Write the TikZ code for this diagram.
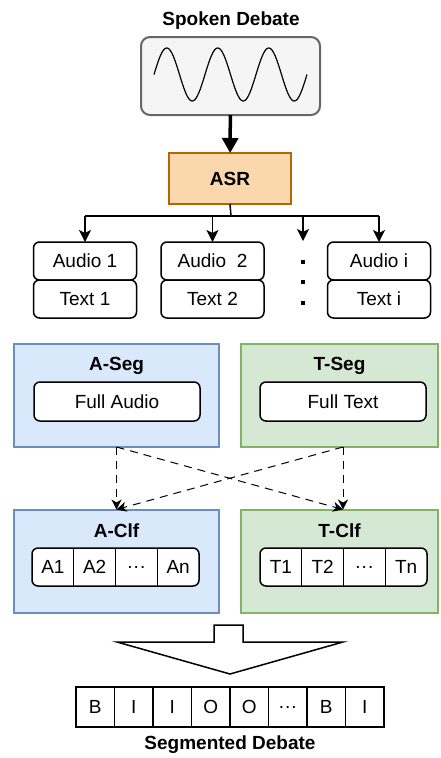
\documentclass[tikz,border=0pt]{standalone}
\usepackage{fontspec}
\setmainfont{Liberation Sans}
\usetikzlibrary{positioning,arrows.meta}

\definecolor{wavefill}{HTML}{F5F5F5}
\definecolor{wavedraw}{HTML}{666666}
\definecolor{asrfill}{HTML}{FAD7AC}
\definecolor{asrdraw}{HTML}{B46504}
\definecolor{bluefill}{HTML}{DAE8FC}
\definecolor{bluedraw}{HTML}{6C8EBF}
\definecolor{greenfill}{HTML}{D5E8D4}
\definecolor{greendraw}{HTML}{82B366}

\begin{document}
\begin{tikzpicture}[x=1pt,y=-1pt,
every node/.style={font=\fontsize{19}{22}\selectfont, inner sep=0pt, outer sep=0pt},
title/.style={font=\fontsize{19}{22}\selectfont\bfseries},
wavebox/.style={draw=wavedraw, fill=wavefill, line width=2pt, rounded corners=9pt, minimum width=179pt, minimum height=78pt},
asrbox/.style={draw=asrdraw, fill=asrfill, line width=2pt, minimum width=122pt, minimum height=51pt, font=\fontsize{19}{22}\selectfont\bfseries},
item/.style={draw, fill=white, line width=1.5pt, rounded corners=6pt, minimum width=103pt, minimum height=38pt},
dot/.style={fill, rectangle, minimum size=4.5pt},
segbox/.style={draw=#1draw, fill=#1fill, line width=2pt, minimum height=103pt},
cellrow/.style={draw, fill=white, line width=1.5pt, rounded corners=6pt, minimum width=167pt, minimum height=38pt},
cell/.style={minimum width=41.75pt, minimum height=38pt},
bio/.style={draw, line width=1.5pt, minimum width=38.5pt, minimum height=40pt},
link/.style={line width=1.5pt, -{Stealth[length=12pt,width=12pt,inset=3pt]}},
cross/.style={line width=1pt, dash pattern=on 8pt off 6pt, -{Stealth[length=10pt,width=10pt,inset=3pt]}}
]
\useasboundingbox (0,0) rectangle (440,758);

% input signal
\node[title] (spoken) at (231,21) {Spoken Debate};
\node[wavebox] (wave) at (230.5,76) {};
\draw[line width=1.2pt] plot[domain=0:1080, samples=160] ({154+\x/1080*153}, {74.5-26.5*sin(\x)});
\node[asrbox] (asr) at (230,178.5) {ASR};
\draw[line width=3.5pt, -{Triangle[length=15pt,width=16pt]}] (wave) -- (asr);

% transcribed segments
\node[item] (audio1) at (85,261) {Audio 1};
\node[item, below=0pt of audio1] (text1) {Text 1};
\node[item] (audio2) at (212.5,261) {Audio\ \ 2};
\node[item, below=0pt of audio2] (text2) {Text 2};
\node[item] (audioi) at (379,261) {Audio i};
\node[item, below=0pt of audioi] (texti) {Text i};
\node[dot] (dot1) at (303,262) {};
\node[dot] (dot2) at (303,282) {};
\node[dot] (dot3) at (303,303) {};
\coordinate (bus) at (231,216);
\coordinate (dotstop) at (303,241);

\draw[line width=1.5pt] (asr.south) -- (bus);
\draw[line width=1.5pt] (audio1.north |- bus) -- (audioi.north |- bus);
\draw[link] (audio1.north |- bus) -- (audio1.north);
\draw[link] (audio2.north |- bus) -- (audio2.north);
\draw[link] (dotstop |- bus) -- (dotstop);
\draw[link] (audioi.north |- bus) -- (audioi.north);

% segmentation
\node[segbox=blue, minimum width=205pt] (aseg) at (116.5,395.5) {};
\node[title] (asegtitle) at (116.5,366) {A-Seg};
\node[item, minimum width=166pt, minimum height=39pt] (fullaudio) at (117,401.5) {Full Audio};
\node[segbox=green, minimum width=197pt] (tseg) at (339.5,395.5) {};
\node[title] (tsegtitle) at (339.5,366) {T-Seg};
\node[item, minimum width=166pt, minimum height=39pt] (fulltext) at (343,401.5) {Full Text};

% classification
\node[segbox=blue, minimum width=205pt, minimum height=103pt] (aclf) at (116.5,561) {};
\node[title] (aclftitle) at (116.5,531) {A-Clf};
\node[cellrow] (arow) at (115.5,567) {};
\node[cell, anchor=west] (a1) at (arow.west) {A1};
\node[cell, right=0pt of a1] (a2) {A2};
\node[cell, right=0pt of a2] (adots) {.\kern1pt.\kern1pt.};
\node[cell, right=0pt of adots] (an) {An};
\draw[line width=1.2pt] (a1.north east) -- (a1.south east);
\draw[line width=1.2pt] (a2.north east) -- (a2.south east);
\draw[line width=1.2pt] (adots.north east) -- (adots.south east);

\node[segbox=green, minimum width=197pt, minimum height=103pt] (tclf) at (339.5,561) {};
\node[title] (tclftitle) at (339.5,531) {T-Clf};
\node[cellrow] (trow) at (343.5,567) {};
\node[cell, anchor=west] (t1) at (trow.west) {T1};
\node[cell, right=0pt of t1] (t2) {T2};
\node[cell, right=0pt of t2] (tdots) {.\kern1pt.\kern1pt.};
\node[cell, right=0pt of tdots] (tn) {Tn};
\draw[line width=1.2pt] (t1.north east) -- (t1.south east);
\draw[line width=1.2pt] (t2.north east) -- (t2.south east);
\draw[line width=1.2pt] (tdots.north east) -- (tdots.south east);

\draw[cross] (aseg.south -| asegtitle) -- (aclf.north -| aclftitle);
\draw[cross] (aseg.south -| asegtitle) -- (tclf.north -| fulltext);
\draw[cross] (tseg.south -| fulltext) -- (tclf.north -| fulltext);
\draw[cross] (tseg.south -| fulltext) -- (aclf.north -| aclftitle);

% merged output
\draw[line width=1.5pt, line join=miter] (214,625) -- (243,625) -- (243,642) -- (343,642) -- (230,674) -- (117,642) -- (214,642) -- cycle;
\node[bio] (b1) at (95.25,707) {B};
\node[bio, right=0pt of b1] (b2) {I};
\node[bio, right=0pt of b2] (b3) {I};
\node[bio, right=0pt of b3] (b4) {O};
\node[bio, right=0pt of b4] (b5) {O};
\node[bio, right=0pt of b5] (b6) {.\kern1pt.\kern1pt.};
\node[bio, right=0pt of b6] (b7) {B};
\node[bio, right=0pt of b7] (b8) {I};
\node[title] (segmented) at (230,745) {Segmented Debate};
\end{tikzpicture}
\end{document}
